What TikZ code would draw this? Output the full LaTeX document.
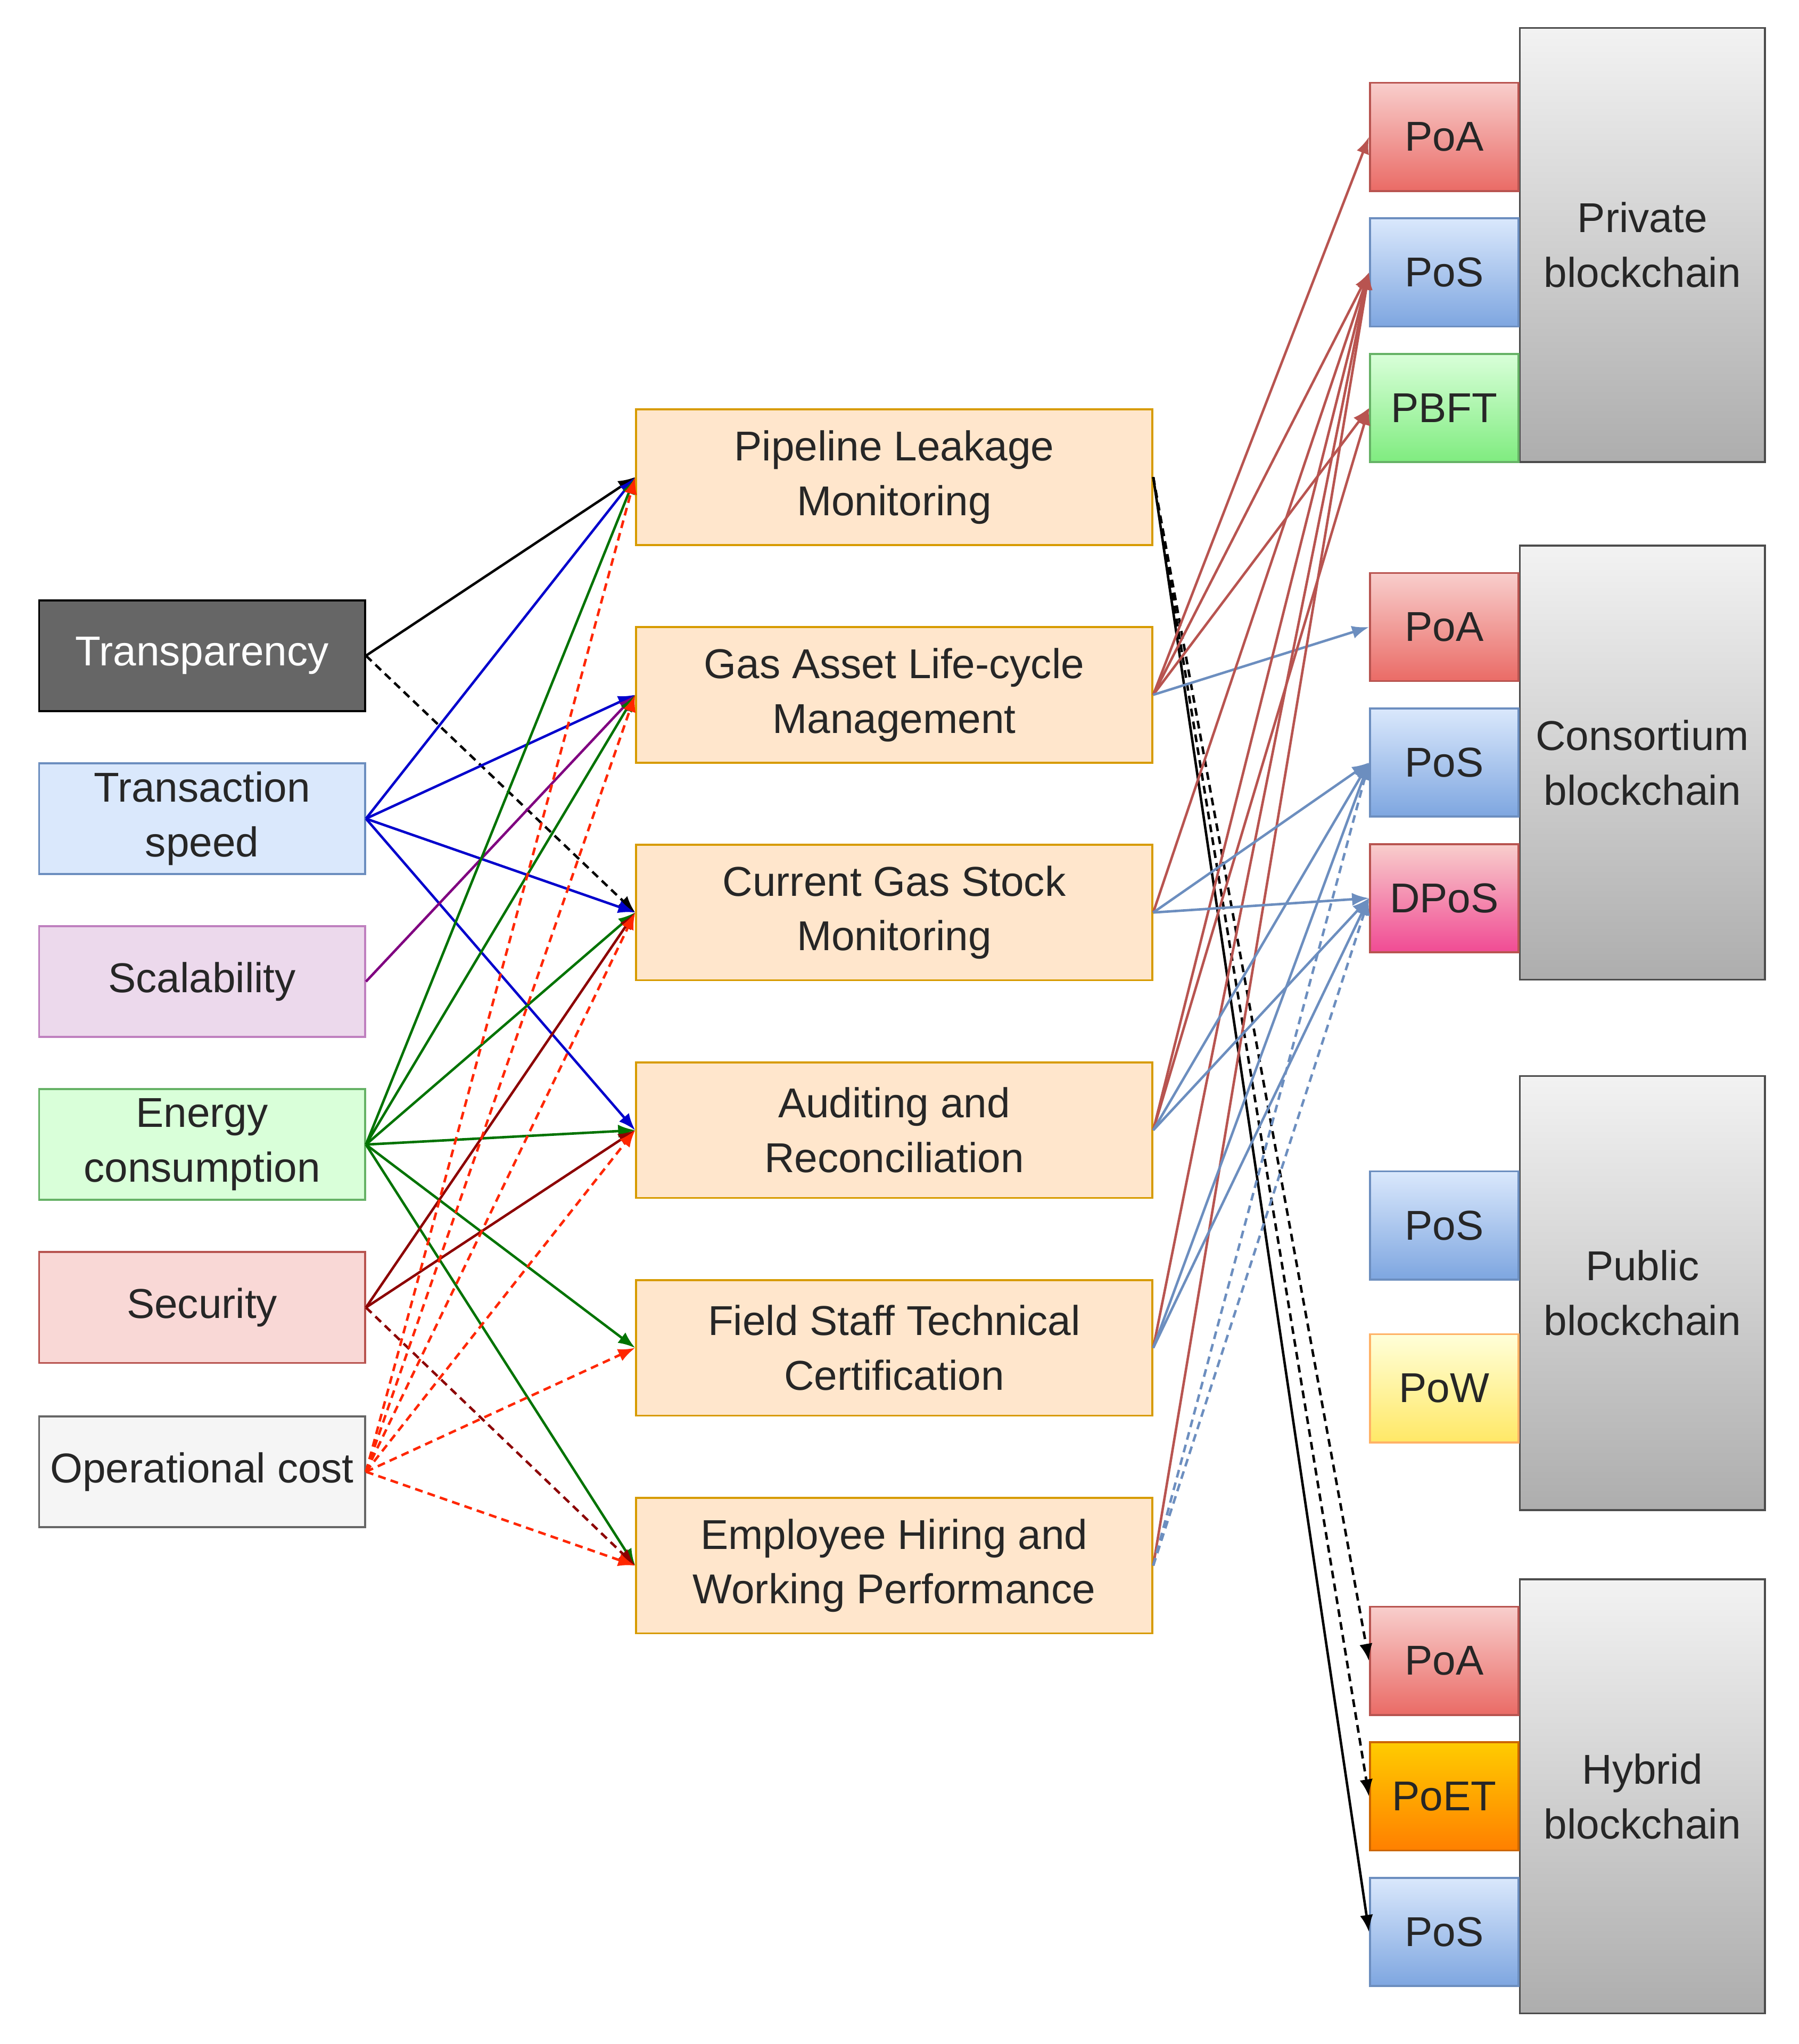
\documentclass[tikz,border=0pt]{standalone}
\usepackage{fontspec}
\setmainfont{Liberation Sans}
\usetikzlibrary{arrows.meta}
\definecolor{rl}{HTML}{B85450}\definecolor{bl}{HTML}{6C8EBF}
\definecolor{dk}{HTML}{DAE8FC}\definecolor{bb}{HTML}{7EA6E0}
\definecolor{mo}{HTML}{FFE6CC}\definecolor{mor}{HTML}{D79B00}
\definecolor{rr}{HTML}{EA6B66}\definecolor{rp}{HTML}{F8CECC}
\begin{document}
\begin{tikzpicture}[x=1pt,y=-1pt,
 base/.style={draw,line width=1.5pt,align=center,inner sep=0pt,font=\fontsize{32}{42}\selectfont,text=black!85},
 lb/.style={base,minimum width=250pt,minimum height=85pt},
 mb/.style={base,minimum width=396pt,minimum height=104pt,fill=mo,draw=mor},
 sb/.style={base,minimum width=114pt,minimum height=83pt},
 gb/.style={base,minimum width=188pt,minimum height=333pt,draw=black!70,top color=black!5,bottom color=black!32},
 red/.style={sb,draw=rl,top color=rp,bottom color=rr},
 blu/.style={sb,draw=bl,top color=dk,bottom color=bb},
 a/.style={-{Latex[length=13pt,width=10pt]},line width=1.9pt},
 d/.style={a,dash pattern=on 6pt off 4pt}]
\useasboundingbox (0,0) rectangle (1380,1568);
% left
\node[lb,fill=black!60,text=white,draw=black] (tr) at (155,503) {Transparency};
\node[lb,fill=dk,draw=bl] (ts) at (155,628) {Transaction\\speed};
\node[lb,fill=violet!15,draw=violet!50] (sc) at (155,753) {Scalability};
\node[lb,fill=green!15,draw=green!50!black!60] (en) at (155,878) {Energy\\consumption};
\node[lb,fill=rp!80,draw=rl] (se) at (155,1003) {Security};
\node[lb,fill=black!4,draw=black!60] (oc) at (155,1129) {Operational cost};
% middle
\node[mb] (m1) at (686,366) {Pipeline Leakage\\Monitoring};
\node[mb] (m2) at (686,533) {Gas Asset Life-cycle\\Management};
\node[mb] (m3) at (686,700) {Current Gas Stock\\Monitoring};
\node[mb] (m4) at (686,867) {Auditing and\\Reconciliation};
\node[mb] (m5) at (686,1034) {Field Staff Technical\\Certification};
\node[mb] (m6) at (686,1201) {Employee Hiring and\\Working Performance};
% right groups
\node[gb] (g1) at (1260,188) {Private\\blockchain};
\node[gb] (g2) at (1260,585) {Consortium\\blockchain};
\node[gb] (g3) at (1260,992) {Public\\blockchain};
\node[gb] (g4) at (1260,1378) {Hybrid\\blockchain};
\node[red] (p1) at (1108,105) {PoA};
\node[blu] (p2) at (1108,209) {PoS};
\node[sb,draw=green!50!black!60,top color=green!15,bottom color=green!50!black!30!green!50] (p3) at (1108,313) {PBFT};
\node[red] (c1) at (1108,481) {PoA};
\node[blu] (c2) at (1108,585) {PoS};
\node[sb,draw=rl,top color=rp,bottom color=magenta!30!rr] (c3) at (1108,689) {DPoS};
\node[blu] (u1) at (1108,940) {PoS};
\node[sb,draw=orange!60,top color=yellow!15,bottom color=yellow!70!orange!60] (u2) at (1108,1065) {PoW};
\node[red] (h1) at (1108,1274) {PoA};
\node[sb,draw=orange!80!black,top color=orange!40!yellow,bottom color=orange] (h2) at (1108,1378) {PoET};
\node[blu] (h3) at (1108,1482) {PoS};
% left -> middle
\draw[a,black] (tr.east) -- (m1.west);
\draw[d,black] (tr.east) -- (m3.west);
\foreach \t in {m1,m2,m3,m4} \draw[a,blue!80!black] (ts.east) -- (\t.west);
\draw[a,violet] (sc.east) -- (m2.west);
\foreach \t in {m1,m2,m3,m4,m5,m6} \draw[a,green!45!black] (en.east) -- (\t.west);
\draw[a,red!55!black] (se.east) -- (m3.west);
\draw[a,red!55!black] (se.east) -- (m4.west);
\draw[d,red!55!black] (se.east) -- (m6.west);
\foreach \t in {m1,m2,m3,m4,m5,m6} \draw[d,red!70!orange] (oc.east) -- (\t.west);
% middle -> right
\draw[d,black] (m1.east) -- (h1.west);
\draw[d,black] (m1.east) -- (h2.west);
\draw[a,black] (m1.east) -- (h3.west);
\foreach \t in {p1,p2,p3} \draw[a,rl] (m2.east) -- (\t.west);
\draw[a,bl] (m2.east) -- (c1.west);
\draw[a,rl] (m3.east) -- (p2.west);
\draw[a,rl] (m4.east) -- (p2.west);
\draw[a,rl] (m4.east) -- (p3.west);
\draw[a,rl] (m5.east) -- (p2.west);
\draw[a,rl] (m6.east) -- (p2.west);
\foreach \s in {m3,m4,m5} {\draw[a,bl] (\s.east) -- (c2.west); \draw[a,bl] (\s.east) -- (c3.west);}
\draw[d,bl] (m6.east) -- (c2.west);
\draw[d,bl] (m6.east) -- (c3.west);
\end{tikzpicture}
\end{document}
